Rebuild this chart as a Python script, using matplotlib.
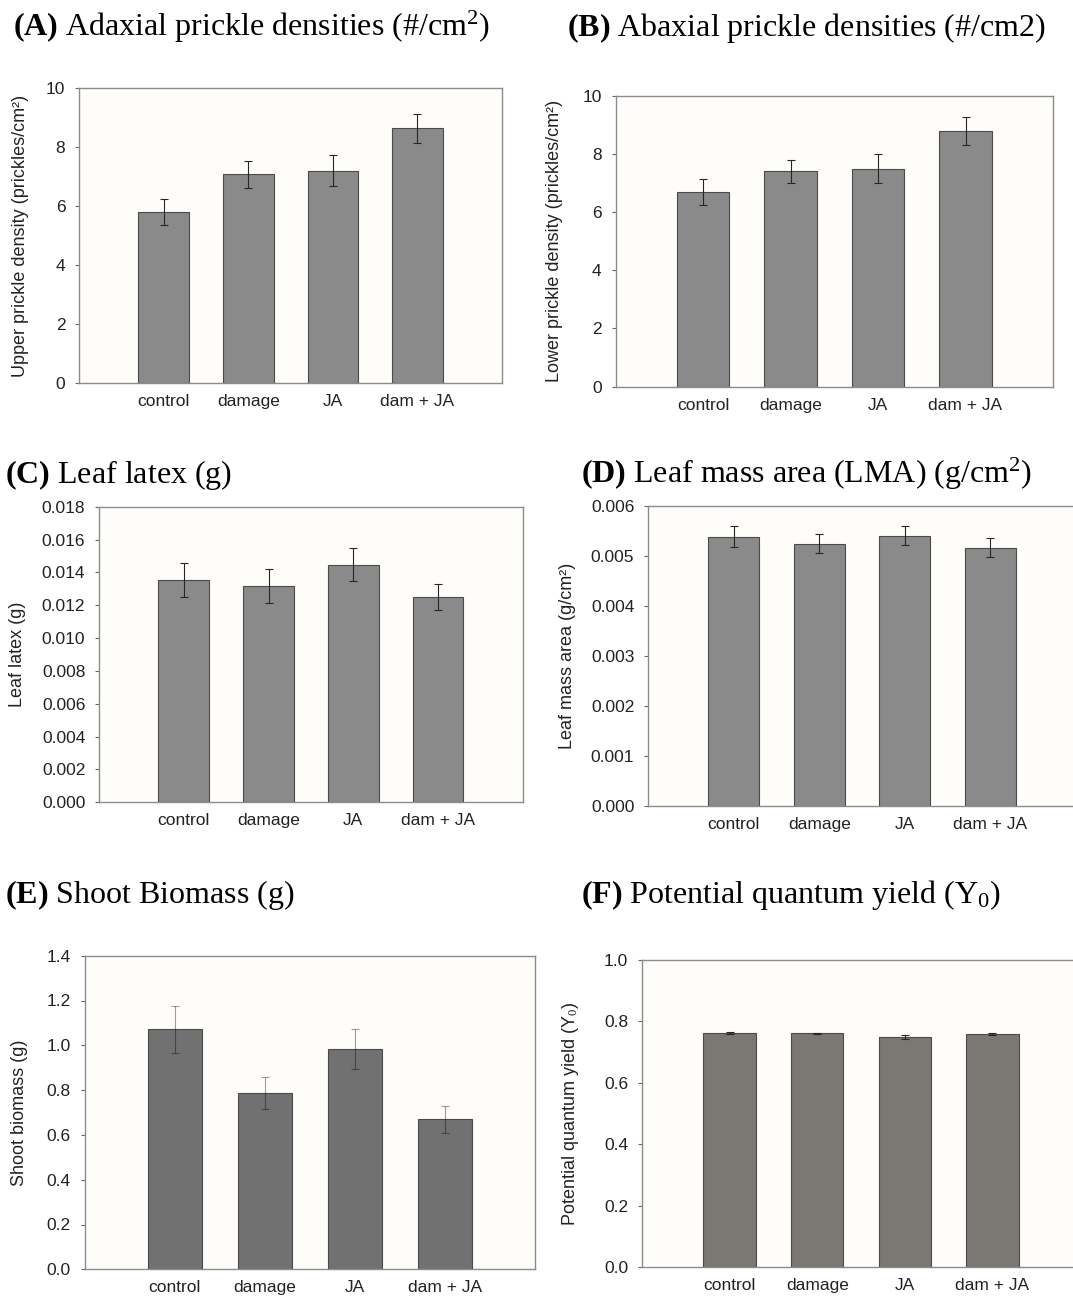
import matplotlib
matplotlib.use('Agg')
import matplotlib.pyplot as plt
import numpy as np

plt.rcParams['font.family'] = 'Liberation Sans'
plt.rcParams['mathtext.fontset'] = 'custom'
plt.rcParams['mathtext.rm'] = 'Liberation Serif'
plt.rcParams['mathtext.it'] = 'Liberation Serif:italic'
plt.rcParams['mathtext.bf'] = 'Liberation Serif:bold'

treatments = ['control', 'damage', 'JA', 'dam + JA']

upper_density = [5.80, 7.08, 7.20, 8.63]
upper_err = [0.45, 0.45, 0.53, 0.48]

lower_density = [6.69, 7.40, 7.49, 8.79]
lower_err = [0.46, 0.40, 0.50, 0.48]

leaf_latex = [0.01355, 0.01317, 0.01447, 0.01250]
leaf_latex_err = [0.00104, 0.00106, 0.00099, 0.00077]

lma = [0.00538, 0.00524, 0.00540, 0.00516]
lma_err = [0.00021, 0.00019, 0.00019, 0.00019]

shoot = [1.071, 0.787, 0.985, 0.670]
shoot_err = [0.105, 0.072, 0.090, 0.060]

yield0 = [0.763, 0.761, 0.750, 0.758]
yield0_err = [0.004, 0.003, 0.006, 0.003]

W, H = 1073, 1296
fig = plt.figure(figsize=(W / 100, H / 100), dpi=100)
fig.patch.set_facecolor('white')

BG = '#fffdf9'
SPINE = '#8c8c8c'
TXT = '#222222'


def make_axes(left, right, top, bottom):
    return fig.add_axes([left / W, 1 - bottom / H, (right - left) / W, (bottom - top) / H])


def panel(box, vals, errs, ylim, yticks, fmt, ylabel, label_x, bar_color,
          err_color='#262626', err_alpha=1.0):
    ax = make_axes(*box)
    ax.set_facecolor(BG)
    x = np.arange(len(treatments))
    ax.bar(x, vals, width=0.6, color=bar_color, edgecolor='#4a4a4a', linewidth=0.8, zorder=2)
    ax.errorbar(x, vals, yerr=errs, fmt='none', ecolor=err_color, alpha=err_alpha,
                elinewidth=0.8, capsize=3, capthick=0.8, zorder=3)
    ax.set_xlim(-1, 4)
    ax.set_ylim(*ylim)
    ax.set_yticks(yticks)
    ax.set_yticklabels([fmt.format(v) for v in yticks])
    ax.set_xticks(x)
    ax.set_xticklabels(treatments)
    for s in ax.spines.values():
        s.set_color(SPINE)
        s.set_linewidth(1.0)
    ax.tick_params(axis='y', direction='out', length=3, width=0.8, color='#666666',
                   labelsize=12.5, labelcolor=TXT, pad=7)
    ax.tick_params(axis='x', length=0, labelsize=12.5, labelcolor=TXT, pad=8)
    ax.set_ylabel(ylabel, fontsize=13, color=TXT)
    ax.yaxis.set_label_coords(label_x, 0.5)
    return ax


panel((79.2, 502, 88, 383.3), upper_density, upper_err, (0, 10), [0, 2, 4, 6, 8, 10], '{:g}',
      'Upper prickle density (prickles/cm²)', -0.118, '#8a8a8a')
panel((615.5, 1053, 95.7, 386.7), lower_density, lower_err, (0, 10), [0, 2, 4, 6, 8, 10], '{:g}',
      'Lower prickle density (prickles/cm²)', -0.12, '#8a8a8a')
panel((99.2, 522.7, 506.7, 802.3), leaf_latex, leaf_latex_err, (0, 0.018),
      np.arange(0, 0.0181, 0.002), '{:.3f}', 'Leaf latex (g)', -0.172, '#8a8a8a')
panel((648.2, 1075.7, 505.7, 805.7), lma, lma_err, (0, 0.006),
      np.arange(0, 0.0061, 0.001), '{:.3f}', 'Leaf mass area (g/cm²)', -0.169, '#8a8a8a')
panel((84.7, 534.8, 955.7, 1269.3), shoot, shoot_err, (0, 1.4),
      np.arange(0, 1.41, 0.2), '{:.1f}', 'Shoot biomass (g)', -0.126, '#717171',
      err_color='black', err_alpha=0.38)
panel((642, 1080, 960, 1267.3), yield0, yield0_err, (0, 1.0),
      np.arange(0, 1.01, 0.2), '{:.1f}', 'Potential quantum yield (Y$_0$)', -0.14, '#7b7773')

titles = [
    (13, 36, r'$\mathbf{(A)}$ Adaxial prickle densities (#/cm$^2$)'),
    (567, 36, r'$\mathbf{(B)}$ Abaxial prickle densities (#/cm2)'),
    (5, 483, r'$\mathbf{(C)}$ Leaf latex (g)'),
    (581, 483, r'$\mathbf{(D)}$ Leaf mass area (LMA) (g/cm$^2$)'),
    (5, 903, r'$\mathbf{(E)}$ Shoot Biomass (g)'),
    (581, 903, r'$\mathbf{(F)}$ Potential quantum yield (Y$_0$)'),
]
for tx, ty, t in titles:
    fig.text(tx / W, 1 - ty / H, t, family='Liberation Serif', fontsize=23,
             ha='left', va='baseline', color='black')

fig.savefig('out.png', dpi=100, facecolor='white')
